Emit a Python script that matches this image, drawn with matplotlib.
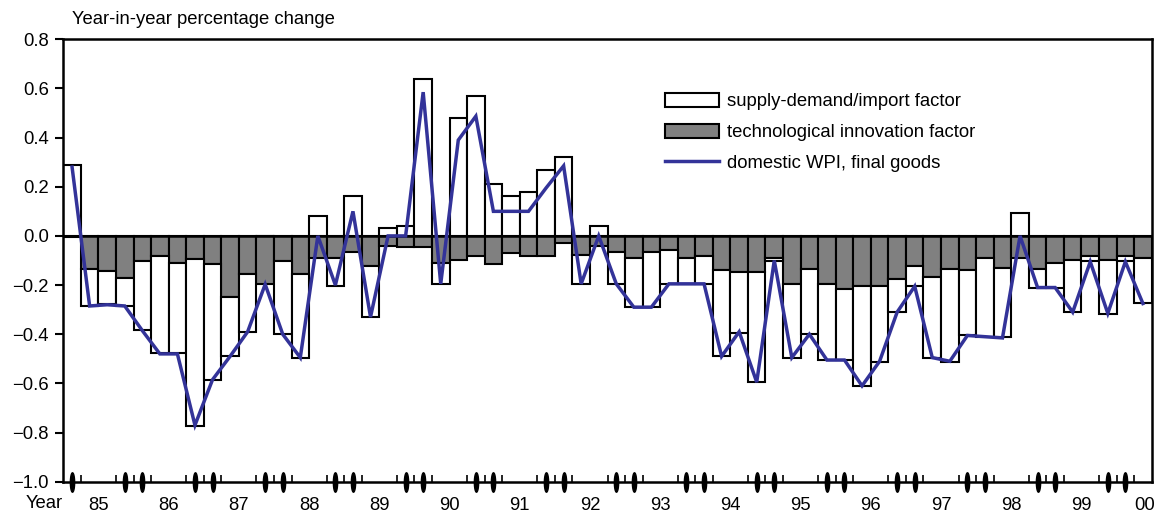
import numpy as np
import matplotlib
matplotlib.use("Agg")
import matplotlib.pyplot as plt
from matplotlib.patches import Patch
from matplotlib.lines import Line2D
from matplotlib.path import Path

plt.rcParams['font.family'] = ['Liberation Sans', 'DejaVu Sans']

# ---- data (quarterly, 1985Q1 .. 2000Q2) ----
supply_demand = [0.29, -0.149, -0.136, -0.115, -0.278, -0.397, -0.366, -0.678,
                 -0.472, -0.238, -0.234, 0.0, -0.295, -0.34, 0.083, -0.112,
                 0.164, -0.209, 0.034, 0.041, 0.637, -0.084, 0.481, 0.571,
                 0.213, 0.164, 0.180, 0.269, 0.320, -0.115, 0.042, -0.131,
                 -0.199, -0.226, -0.138, -0.104, -0.114, -0.349, -0.245, -0.445,
                 -0.012, -0.30, -0.263, -0.309, -0.287, -0.407, -0.308, -0.132,
                 -0.081, -0.327, -0.375, -0.268, -0.321, -0.283, 0.092, -0.074,
                 -0.099, -0.21, -0.021, -0.219, -0.021, -0.186]
tech_innovation = [-0.005, -0.136, -0.142, -0.170, -0.104, -0.080, -0.111, -0.095,
                   -0.114, -0.250, -0.155, -0.195, -0.104, -0.155, -0.091, -0.091,
                   -0.064, -0.122, -0.040, -0.046, -0.047, -0.111, -0.098, -0.081,
                   -0.114, -0.071, -0.081, -0.081, -0.030, -0.079, -0.041, -0.064,
                   -0.091, -0.064, -0.057, -0.091, -0.081, -0.138, -0.148, -0.148,
                   -0.088, -0.195, -0.136, -0.195, -0.217, -0.203, -0.203, -0.176,
                   -0.122, -0.168, -0.136, -0.137, -0.091, -0.129, -0.090, -0.136,
                   -0.111, -0.098, -0.081, -0.098, -0.081, -0.088]
wpi_final = [0.28, -0.285, -0.28, -0.285, -0.385, -0.48, -0.48, -0.77,
             -0.585, -0.49, -0.39, -0.197, -0.40, -0.495, 0.0, -0.20,
             0.10, -0.33, 0.0, 0.0, 0.585, -0.195, 0.39, 0.487,
             0.10, 0.10, 0.10, 0.195, 0.285, -0.195, 0.0, -0.195,
             -0.29, -0.29, -0.195, -0.195, -0.195, -0.49, -0.39, -0.595,
             -0.10, -0.495, -0.40, -0.505, -0.505, -0.61, -0.51, -0.31,
             -0.205, -0.495, -0.51, -0.405, -0.41, -0.415, 0.0, -0.21,
             -0.21, -0.31, -0.105, -0.315, -0.105, -0.275]
year_labels = ['85', '86', '87', '88', '89', '90', '91', '92', '93', '94',
               '95', '96', '97', '98', '99', '00']
y_ticks = [0.8, 0.6, 0.4, 0.2, 0.0, -0.2, -0.4, -0.6, -0.8, -1.0]

FS = 13.3
W, H = 1164, 513
fig = plt.figure(figsize=(W / 100, H / 100), dpi=100)
ax = fig.add_axes([63.3 / W, 1 - 481.7 / H, (1151.7 - 63.3) / W, (481.7 - 39.3) / H])

sd = np.array(supply_demand)
ti = np.array(tech_innovation)
n = len(sd)
x = np.arange(n)
sd_bottom = np.where(np.sign(sd) == np.sign(ti), ti, 0.0)

line_color = '#333399'
ax.bar(x, ti, width=1.0, align='edge', color='#808080', edgecolor='black', linewidth=1.5, zorder=2)
ax.bar(x, sd, width=1.0, bottom=sd_bottom, align='edge', color='white', edgecolor='black',
       linewidth=1.5, zorder=2)
ax.axhline(0, color='black', lw=1.8, zorder=3)
ax.plot(x + 0.5, wpi_final, color=line_color, lw=2.5, zorder=4, solid_joinstyle='miter')

ax.set_xlim(0, n)
ax.set_ylim(-1.0, 0.8)
ax.set_yticks(y_ticks)
ax.set_yticklabels([f"{v:.1f}".replace('-', '\u2212') for v in y_ticks])

year_pos = [4 * k + 2 for k in range(15)] + [61.6]
ax.set_xticks(year_pos)
ax.set_xticklabels(year_labels)
ax.set_xticks(np.arange(1, n), minor=True)
ax.tick_params(axis='x', which='major', length=0, pad=11, labelsize=FS)
ax.tick_params(axis='x', which='minor', direction='in', length=5, width=1.2)
ax.tick_params(axis='y', direction='out', length=5.5, width=1.5, pad=5, labelsize=FS)

for s in ax.spines.values():
    s.set_linewidth(1.8)

# thick markers on the time axis
t = np.linspace(0, 2 * np.pi, 40)
ell = Path(np.column_stack([0.22 * np.cos(t), np.sin(t)]), closed=True)
mark_idx = [0] + [v for k in range(1, 16) for v in (4 * k - 1, 4 * k)]
ax.plot(np.array(mark_idx) + 0.5, [-1.0] * len(mark_idx), linestyle='none', marker=ell,
        markersize=14, color='black', clip_on=False, zorder=5)

fig.text(72 / W, 1 - 20 / H, 'Year-in-year percentage change', fontsize=FS, va='center', ha='left')
fig.text(26 / W, 1 - 503 / H, 'Year', fontsize=FS, va='center', ha='left')

handles = [Patch(facecolor='white', edgecolor='black', linewidth=1.5),
           Patch(facecolor='#808080', edgecolor='black', linewidth=1.5),
           Line2D([0], [0], color=line_color, lw=2.5)]
labels = ['supply-demand/import factor', 'technological innovation factor',
          'domestic WPI, final goods']
fig.legend(handles, labels, loc='upper left', bbox_to_anchor=(665 / W, 1 - 93 / H),
           frameon=False, fontsize=FS, handlelength=2.92, handleheight=0.76,
           handletextpad=0.43, labelspacing=0.74, borderpad=0, borderaxespad=0)

fig.savefig('out.png', dpi=100)
